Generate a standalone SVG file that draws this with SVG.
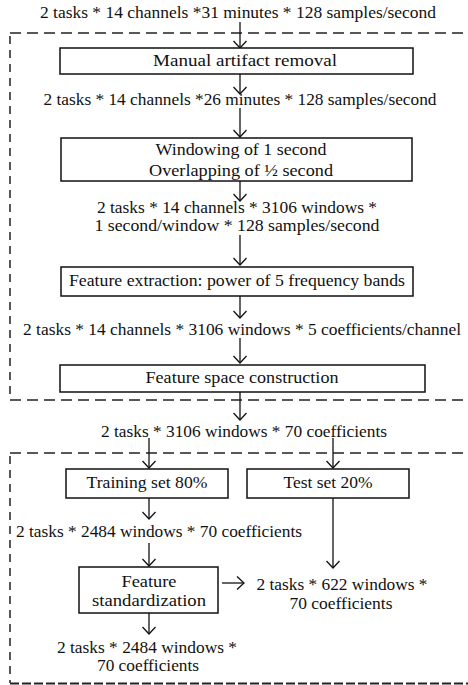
<svg xmlns="http://www.w3.org/2000/svg" width="468" height="685" viewBox="0 0 468 685">
<style>
text{font-family:'Liberation Serif','DejaVu Serif','Times New Roman',serif;font-size:16px;fill:#111;text-anchor:middle}
.box{fill:#fff;stroke:#111;stroke-width:1.5}
.ln{stroke:#111;stroke-width:1.3;fill:none}
.dash{stroke:#222;stroke-width:1.5;fill:none;stroke-dasharray:11 6}
.vdash{stroke:#222;stroke-width:1.5;fill:none;stroke-dasharray:8 6}
</style>
<defs>
<marker id="ah" viewBox="0 0 10 14" refX="9" refY="7" markerWidth="10" markerHeight="14" markerUnits="userSpaceOnUse" orient="auto">
<polyline points="2,0.5 9,7 2,13.5" fill="none" stroke="#111" stroke-width="1.3"/>
</marker>
</defs>
<g id="groups">
<path class="dash" d="M10,33 H468"/>
<path class="vdash" d="M10,36 V400"/>
<path class="dash" d="M10,400 H468"/>
<path class="dash" d="M10,453 H468"/>
<path class="vdash" d="M10,456 V683"/>
<path class="dash" d="M10,683.5 H468" style="stroke-dasharray:9 3;stroke-width:2"/>
</g>
<g id="connectors">
<line class="ln" x1="240" y1="22" x2="240" y2="48" marker-end="url(#ah)"/>
<line class="ln" x1="240" y1="74" x2="240" y2="94" marker-end="url(#ah)"/>
<line class="ln" x1="240" y1="108" x2="240" y2="137" marker-end="url(#ah)"/>
<line class="ln" x1="240" y1="181" x2="240" y2="201" marker-end="url(#ah)"/>
<line class="ln" x1="240" y1="235" x2="240" y2="265" marker-end="url(#ah)"/>
<line class="ln" x1="240" y1="296" x2="240" y2="318" marker-end="url(#ah)"/>
<line class="ln" x1="240" y1="338" x2="240" y2="363" marker-end="url(#ah)"/>
<line class="ln" x1="240" y1="392" x2="240" y2="420" marker-end="url(#ah)"/>
<line class="ln" x1="149" y1="438" x2="149" y2="468" marker-end="url(#ah)"/>
<line class="ln" x1="333" y1="438" x2="333" y2="468" marker-end="url(#ah)"/>
<line class="ln" x1="149" y1="498" x2="149" y2="519" marker-end="url(#ah)"/>
<line class="ln" x1="149" y1="543" x2="149" y2="566" marker-end="url(#ah)"/>
<line class="ln" x1="333" y1="498" x2="333" y2="568" marker-end="url(#ah)"/>
<line class="ln" x1="222" y1="583" x2="244" y2="583" marker-end="url(#ah)"/>
<line class="ln" x1="149" y1="613" x2="149" y2="634" marker-end="url(#ah)"/>
</g>
<g id="t1"><text x="238" y="18" textLength="396" lengthAdjust="spacingAndGlyphs">2 tasks * 14 channels *31 minutes * 128 samples/second</text></g>
<g id="n1"><rect class="box" x="60" y="48" width="353" height="26"/><text x="245" y="66" textLength="184" lengthAdjust="spacingAndGlyphs">Manual artifact removal</text></g>
<g id="t2"><text x="240" y="105" textLength="393" lengthAdjust="spacingAndGlyphs">2 tasks * 14 channels *26 minutes * 128 samples/second</text></g>
<g id="n2"><rect class="box" x="61" y="138" width="351" height="43"/><text x="241" y="155" textLength="171" lengthAdjust="spacingAndGlyphs">Windowing of 1 second</text><text x="241" y="176" textLength="184" lengthAdjust="spacingAndGlyphs">Overlapping of ½ second</text></g>
<g id="t3"><text x="237" y="213" textLength="280" lengthAdjust="spacingAndGlyphs">2 tasks * 14 channels * 3106 windows *</text><text x="237" y="231" textLength="285" lengthAdjust="spacingAndGlyphs">1 second/window * 128 samples/second</text></g>
<g id="n3"><rect class="box" x="61" y="267" width="352" height="29"/><text x="237" y="286" textLength="336" lengthAdjust="spacingAndGlyphs">Feature extraction: power of 5 frequency bands</text></g>
<g id="t4"><text x="242" y="335" textLength="438" lengthAdjust="spacingAndGlyphs">2 tasks * 14 channels * 3106 windows * 5 coefficients/channel</text></g>
<g id="n4"><rect class="box" x="60" y="365" width="365" height="27"/><text x="242" y="383" textLength="193" lengthAdjust="spacingAndGlyphs">Feature space construction</text></g>
<g id="t5"><text x="244" y="437" textLength="286" lengthAdjust="spacingAndGlyphs">2 tasks * 3106 windows * 70 coefficients</text></g>
<g id="n5"><rect class="box" x="66" y="469" width="162" height="29"/><text x="147" y="488" textLength="121" lengthAdjust="spacingAndGlyphs">Training set 80%</text></g>
<g id="n6"><rect class="box" x="247" y="469" width="162" height="29"/><text x="328" y="488" textLength="89" lengthAdjust="spacingAndGlyphs">Test set 20%</text></g>
<g id="t6"><text x="159" y="537" textLength="286" lengthAdjust="spacingAndGlyphs">2 tasks * 2484 windows * 70 coefficients</text></g>
<g id="n7"><rect class="box" x="79" y="567" width="139" height="46"/><text x="149" y="587" textLength="55" lengthAdjust="spacingAndGlyphs">Feature</text><text x="149" y="606" textLength="114" lengthAdjust="spacingAndGlyphs">standardization</text></g>
<g id="t7"><text x="342" y="590" textLength="171" lengthAdjust="spacingAndGlyphs">2 tasks * 622 windows *</text><text x="341" y="609" textLength="103" lengthAdjust="spacingAndGlyphs">70 coefficients</text></g>
<g id="t8"><text x="147" y="653" textLength="180" lengthAdjust="spacingAndGlyphs">2 tasks * 2484 windows *</text><text x="148" y="671" textLength="102" lengthAdjust="spacingAndGlyphs">70 coefficients</text></g>
</svg>
